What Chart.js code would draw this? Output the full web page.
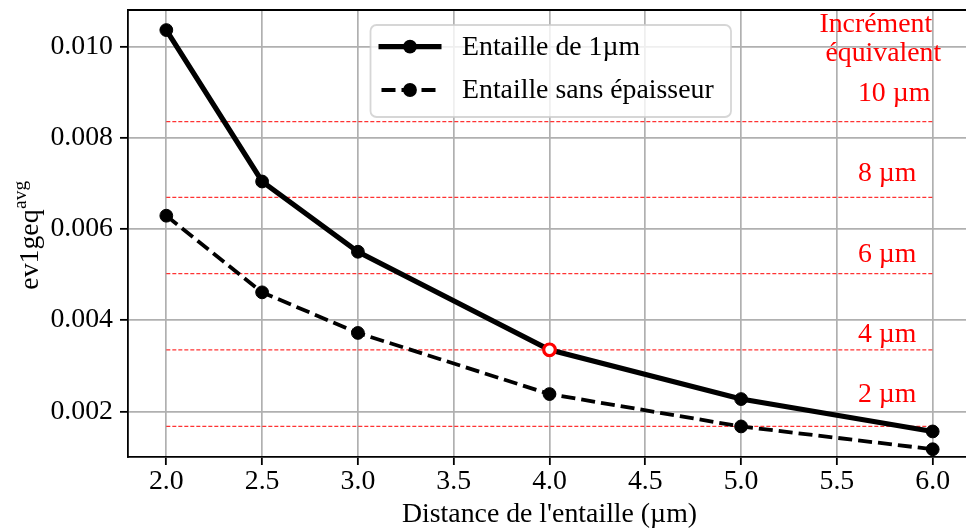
<!DOCTYPE html>
<html><head><meta charset="utf-8">
<script src="https://cdn.jsdelivr.net/npm/chart.js@4.4.1/dist/chart.umd.min.js"></script>
<style>
html,body{margin:0;padding:0;overflow:hidden;background:#fff;width:966px;height:531px;}
#wrap{position:absolute;left:0;top:0;width:980px;height:531px;}
</style></head><body>
<div id="wrap"><canvas id="c" width="980" height="531"></canvas></div>
<script>
// ---- data ----
const distances = [2.0, 2.5, 3.0, 4.0, 5.0, 6.0];
const entaille1um = [0.01036, 0.00704, 0.00550, 0.00335, 0.00227, 0.00156];
const entailleSansEpaisseur = [0.00629, 0.00461, 0.00372, 0.00238, 0.00167, 0.00117];
const seriesLabels = ['Entaille de 1µm', 'Entaille sans épaisseur'];
const xTickValues = [2.0, 2.5, 3.0, 3.5, 4.0, 4.5, 5.0, 5.5, 6.0];
const yTickValues = [0.002, 0.004, 0.006, 0.008, 0.010];
const incrementLevels = [0.001673, 0.003350, 0.005022, 0.006692, 0.008354];
const incrementLabels = ['2 µm', '4 µm', '6 µm', '8 µm', '10 µm'];
const incrementLabelY = [0.002203, 0.003523, 0.005283, 0.007043, 0.008803];
const incrementLabelX = 5.61;
const incrementSpan = [2.0, 6.0];
const headerLines = ['Incrément', 'équivalent'];
const headerX = [5.409, 5.440];
const headerY = [0.010315, 0.009683];
const highlightX = [4.0];
const highlightY = [0.00335];
const xTitle = "Distance de l'entaille (µm)";
const yTitleMain = 'ev1geq';
const yTitleSup = 'avg';

const FONT = "'Liberation Serif', 'Times New Roman', serif";
const FS = 27.8;

const hlineSets = incrementLevels.map(v => ({
  label: '',
  data: incrementSpan.map(x => ({x: x, y: v})),
  borderColor: 'rgba(255,0,0,0.8)',
  borderWidth: 1.3,
  borderDash: [4, 2],
  pointRadius: 0,
  fill: false,
  order: 3
}));

const mainSets = [
  {
    label: seriesLabels[0],
    data: distances.map((x, i) => ({x: x, y: entaille1um[i]})),
    borderColor: '#000', backgroundColor: '#000',
    borderWidth: 5.2,
    pointRadius: 6.4, pointBorderWidth: 1, pointBackgroundColor: '#000', pointBorderColor: '#000',
    fill: false, tension: 0, order: 2
  },
  {
    label: seriesLabels[1],
    data: distances.map((x, i) => ({x: x, y: entailleSansEpaisseur[i]})),
    borderColor: '#000', backgroundColor: '#000',
    borderWidth: 3.8, borderDash: [14, 6],
    pointRadius: 6.4, pointBorderWidth: 1, pointBackgroundColor: '#000', pointBorderColor: '#000',
    fill: false, tension: 0, order: 2
  }
];

const highlightSet = {
  label: '',
  data: highlightX.map((x, i) => ({x: x, y: highlightY[i]})),
  showLine: false,
  pointRadius: 5.8, pointBorderWidth: 3.2,
  pointBackgroundColor: '#fff', pointBorderColor: '#ff0000',
  order: 1
};

const decor = {
  id: 'decor',
  afterDraw(chart) {
    const ctx = chart.ctx, a = chart.chartArea;
    const xs = chart.scales.x, ys = chart.scales.y;
    ctx.save();
    // top and right spines
    ctx.strokeStyle = '#000'; ctx.lineWidth = 1.8;
    ctx.beginPath(); ctx.moveTo(a.left - 0.9, a.top); ctx.lineTo(a.right + 0.9, a.top); ctx.stroke();
    ctx.beginPath(); ctx.moveTo(a.right, a.top); ctx.lineTo(a.right, a.bottom); ctx.stroke();

    // red annotations
    ctx.fillStyle = '#ff0000';
    ctx.font = FS + 'px ' + FONT;
    ctx.textBaseline = 'alphabetic'; ctx.textAlign = 'left';
    incrementLabels.forEach((t, i) => {
      ctx.fillText(t, xs.getPixelForValue(incrementLabelX), ys.getPixelForValue(incrementLabelY[i]));
    });
    headerLines.forEach((t, i) => {
      ctx.fillText(t, xs.getPixelForValue(headerX[i]), ys.getPixelForValue(headerY[i]));
    });

    // legend
    const lg = {x: 370.5, y: 25, w: 360.5, h: 92, r: 6};
    ctx.beginPath();
    ctx.roundRect(lg.x, lg.y, lg.w, lg.h, lg.r);
    ctx.fillStyle = 'rgba(255,255,255,0.8)'; ctx.fill();
    ctx.strokeStyle = 'rgba(204,204,204,0.8)'; ctx.lineWidth = 1.8; ctx.stroke();
    const rows = [46.7, 90];
    mainSets.forEach((ds, i) => {
      const cy = rows[i];
      ctx.strokeStyle = ds.borderColor; ctx.lineWidth = ds.borderWidth;
      ctx.setLineDash(ds.borderDash || []);
      ctx.lineDashOffset = ds.borderDash ? -3 : 0;
      ctx.beginPath(); ctx.moveTo(378.5, cy); ctx.lineTo(441.5, cy); ctx.stroke();
      ctx.setLineDash([]);
      ctx.fillStyle = ds.pointBackgroundColor;
      ctx.beginPath(); ctx.arc(410, cy, ds.pointRadius + 0.5, 0, Math.PI * 2); ctx.fill();
      ctx.fillStyle = '#000';
      ctx.font = FS + 'px ' + FONT;
      ctx.fillText(ds.label, 462, cy + 8.3);
    });

    // x title
    ctx.fillStyle = '#000'; ctx.textAlign = 'center';
    ctx.font = FS + 'px ' + FONT;
    ctx.fillText(xTitle, (a.left + a.right) / 2, 522);

    // y title with superscript
    ctx.textAlign = 'left';
    ctx.font = FS + 'px ' + FONT;
    const wMain = ctx.measureText(yTitleMain).width;
    const supFont = (FS * 0.7) + 'px ' + FONT;
    ctx.font = supFont;
    const wSup = ctx.measureText(yTitleSup).width;
    const total = wMain + wSup;
    const cyT = (a.top + a.bottom) / 2 + 2;
    ctx.translate(38, cyT + total / 2);
    ctx.rotate(-Math.PI / 2);
    ctx.font = FS + 'px ' + FONT;
    ctx.fillText(yTitleMain, 0, 0);
    ctx.font = supFont;
    ctx.fillText(yTitleSup, wMain + 0.5, -12);
    ctx.restore();
  }
};

const tickFont = {family: FONT, size: FS, lineHeight: 1.2};
new Chart(document.getElementById('c'), {
  type: 'line',
  data: {datasets: [...mainSets, ...hlineSets, highlightSet]},
  options: {
    responsive: false,
    animation: false,
    devicePixelRatio: 1,
    layout: {padding: {top: 10, right: 7.6, bottom: 0, left: 0}},
    plugins: {legend: {display: false}, tooltip: {enabled: false}},
    scales: {
      x: {
        type: 'linear', min: 1.8, max: 6.2,
        afterBuildTicks: s => { s.ticks = xTickValues.map(v => ({value: v})); },
        afterFit: s => { s.height = 74; s.paddingLeft = 0; s.paddingRight = 0; },
        ticks: {callback: v => Number(v).toFixed(1), font: tickFont, color: '#000', padding: 0, maxRotation: 0, autoSkip: false},
        grid: {color: '#b0b0b0', lineWidth: 1.7, tickColor: '#000', tickWidth: 1.8, tickLength: 8, drawTicks: true},
        border: {color: '#000', width: 1.8}
      },
      y: {
        type: 'linear', min: 0.001, max: 0.0108,
        afterBuildTicks: s => { s.ticks = yTickValues.map(v => ({value: v})); },
        afterFit: s => { s.width = 128; s.paddingTop = 0; s.paddingBottom = 0; },
        ticks: {callback: v => Number(v).toFixed(3), font: tickFont, color: '#000', padding: 7, autoSkip: false},
        grid: {color: '#b0b0b0', lineWidth: 1.7, tickColor: '#000', tickWidth: 1.8, tickLength: 8, drawTicks: true},
        border: {color: '#000', width: 1.8}
      }
    }
  },
  plugins: [decor]
});
</script>
</body></html>
